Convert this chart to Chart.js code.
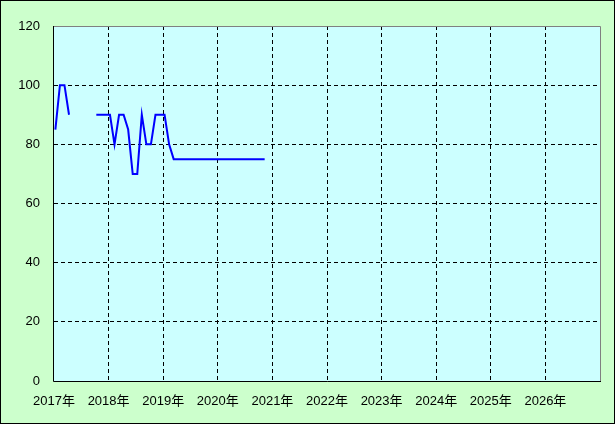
<!DOCTYPE html>
<html>
<head>
<meta charset="utf-8">
<script src="https://cdn.jsdelivr.net/npm/chart.js@4"></script>
<style>
  html, body { margin: 0; padding: 0; background: #ccffcc; }
  #wrap { width: 615px; height: 424px; }
</style>
</head>
<body>
<div id="wrap"><canvas id="chart" width="615" height="424"></canvas></div>
<script>
// 年ラベル (2017年1月 = 0 の月番号で目盛り)
const yearLabels = ['2017年', '2018年', '2019年', '2020年', '2021年', '2022年', '2023年', '2024年', '2025年', '2026年'];
const yTicks = [0, 20, 40, 60, 80, 100, 120];

// 月番号 (2017年1月から) と値
const monthIdx = [0, 1, 2, 3, 4, 9, 10, 11, 12, 13, 14, 15, 16, 17, 18, 19, 20, 21, 22, 23, 24, 25, 26,
  27, 28, 29, 30, 31, 32, 33, 34, 35, 36, 37, 38, 39, 40, 41, 42, 43, 44, 45, 46];
const values = [85, 100, 100, 90, null, 90, 90, 90, 90, 80, 90, 90, 85, 70, 70, 90, 80, 80, 90, 90, 90, 80, 75,
  75, 75, 75, 75, 75, 75, 75, 75, 75, 75, 75, 75, 75, 75, 75, 75, 75, 75, 75, 75];

const points = monthIdx.map((m, i) => ({ x: m + 0.3, y: values[i] }));

// 背景と枠線
const framePlugin = {
  id: 'frame',
  beforeDraw(chart) {
    const { ctx, chartArea: a, width, height } = chart;
    ctx.save();
    ctx.fillStyle = '#ccffcc';
    ctx.fillRect(0, 0, width, height);
    ctx.fillStyle = '#ccffff';
    ctx.fillRect(a.left, a.top, a.right - a.left, a.bottom - a.top);
    ctx.restore();
  },
  afterDraw(chart) {
    const { ctx, chartArea: a, width, height } = chart;
    ctx.save();
    ctx.lineWidth = 1;
    ctx.strokeStyle = '#808080';
    ctx.beginPath();
    ctx.moveTo(a.left, a.top + 0.5);
    ctx.lineTo(a.right + 0.5, a.top + 0.5);
    ctx.lineTo(a.right + 0.5, a.bottom);
    ctx.stroke();
    ctx.strokeStyle = '#000';
    ctx.beginPath();
    ctx.moveTo(a.left - 0.5, a.top);
    ctx.lineTo(a.left - 0.5, a.bottom + 0.5);
    ctx.lineTo(a.right + 1, a.bottom + 0.5);
    ctx.stroke();
    ctx.strokeRect(0.5, 0.5, width - 1, height - 1);
    ctx.restore();
  }
};

const font = { family: '"Liberation Sans", "Noto Sans CJK JP", sans-serif', size: 13 };

new Chart(document.getElementById('chart'), {
  type: 'line',
  data: {
    datasets: [{
      data: points,
      borderColor: '#0000ff',
      borderWidth: 2,
      pointRadius: 0,
      tension: 0,
      spanGaps: false
    }]
  },
  options: {
    responsive: false,
    animation: false,
    events: [],
    layout: { padding: { top: 26, right: 15, left: 0, bottom: 0 } },
    plugins: { legend: { display: false }, tooltip: { enabled: false } },
    scales: {
      x: {
        type: 'linear',
        min: 0,
        max: 120,
        afterFit(scale) { scale.height = 43; },
        afterBuildTicks(scale) {
          scale.ticks = yearLabels.map((_, i) => ({ value: i * 12 })).concat([{ value: 120 }]);
        },
        ticks: {
          color: '#000',
          font: font,
          padding: 13,
          maxRotation: 0,
          autoSkip: false,
          callback: (v) => yearLabels[v / 12] || ''
        },
        grid: {
          color: (c) => (c.tick && (c.tick.value === 0 || c.tick.value === 120)) ? 'rgba(0,0,0,0)' : '#000',
          lineWidth: 1,
          tickLength: 0,
          drawTicks: false
        },
        border: { display: false, dash: [4, 3] }
      },
      y: {
        min: 0,
        max: 120,
        afterFit(scale) { scale.width = 54; },
        afterBuildTicks(scale) {
          scale.ticks = yTicks.map(v => ({ value: v }));
        },
        ticks: {
          color: '#000',
          font: font,
          padding: 14
        },
        grid: {
          color: (c) => (c.tick && (c.tick.value === 0 || c.tick.value === 120)) ? 'rgba(0,0,0,0)' : '#000',
          lineWidth: 1,
          drawTicks: false
        },
        border: { display: false, dash: [4, 3] }
      }
    }
  },
  plugins: [framePlugin]
});
</script>
</body>
</html>
